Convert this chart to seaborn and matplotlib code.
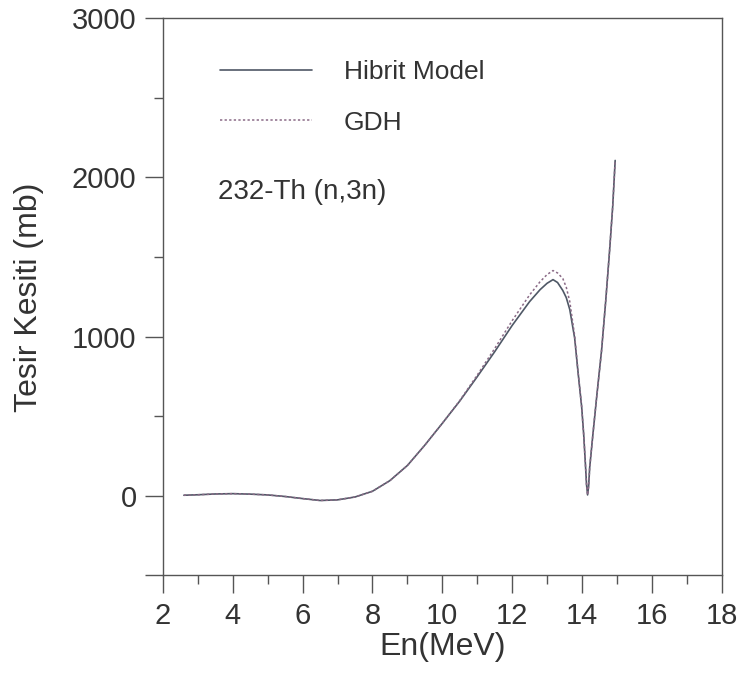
import numpy as np
import pandas as pd
import matplotlib
matplotlib.use("Agg")
import matplotlib.pyplot as plt
import seaborn as sns
from matplotlib.ticker import MultipleLocator

# energies (MeV) and cross sections (mb)
energy = [2.6, 3.0, 3.5, 4.0, 4.5, 5.0, 5.5, 6.0, 6.5, 7.0, 7.5, 8.0, 8.5, 9.0,
          9.5, 10.0, 10.5, 11.0, 11.5, 12.0, 12.5, 12.8, 13.0, 13.17, 13.3,
          13.45, 13.55, 13.65, 13.79, 13.88, 13.99, 14.05, 14.1, 14.13, 14.16,
          14.19, 14.22, 14.31, 14.42, 14.56, 14.68, 14.79, 14.88, 14.95]
hibrit = [3, 6, 11, 13, 10, 5, -5, -18, -30, -26, -8, 28, 95, 190,
          318, 455, 595, 748, 905, 1070, 1220, 1295, 1335, 1358, 1340,
          1290, 1245, 1170, 990, 790, 560, 380, 190, 70, 5,
          60, 176, 380, 620, 912, 1226, 1540, 1820, 2107]
gdh = [3, 6, 11, 13, 10, 5, -5, -18, -30, -26, -8, 28, 95, 190,
       318, 455, 598, 758, 925, 1100, 1262, 1345, 1390, 1415, 1400,
       1365, 1310, 1220, 1005, 795, 560, 380, 190, 70, 5,
       60, 176, 380, 620, 912, 1226, 1540, 1820, 2107]

df = pd.DataFrame({"En": energy, "Hibrit Model": hibrit, "GDH": gdh})

sns.set_style("ticks")
plt.rcParams["font.family"] = ["Liberation Sans", "DejaVu Sans"]

fig = plt.figure(figsize=(7.44, 6.80), dpi=100)
ax = fig.add_axes([0.219, 0.154, 0.751, 0.819])

sns.lineplot(data=df, x="En", y="Hibrit Model", ax=ax, color="#4f5866",
             linewidth=1.2, label="Hibrit Model")
sns.lineplot(data=df, x="En", y="GDH", ax=ax, color="#8a6a86",
             linewidth=1.1, linestyle=(0, (1.5, 1.5)), label="GDH")

ax.set_xlim(2, 18)
ax.set_ylim(-500, 3000)
ax.set_xticks(range(2, 19, 2))
ax.xaxis.set_minor_locator(MultipleLocator(1))
ax.set_yticks([-500, 0, 1000, 2000, 3000])
ax.set_yticklabels(["", "0", "1000", "2000", "3000"])
ax.set_yticks([500, 1500, 2500], minor=True)

ax.tick_params(which="major", length=13, width=1, color="#555555",
               labelsize=21, labelcolor="#333333", pad=6)
ax.tick_params(which="minor", length=6.5, width=1, color="#555555")

for s in ax.spines.values():
    s.set_visible(True)
    s.set_color("#555555")
    s.set_linewidth(1)

ax.set_xlabel("En(MeV)", fontsize=23, color="#333333", labelpad=2)
ax.set_ylabel("Tesir Kesiti (mb)", fontsize=23, color="#333333", labelpad=20)

leg = ax.legend(loc="upper left", bbox_to_anchor=(0.102, 0.925), frameon=False,
                fontsize=19, handlelength=3.5, handletextpad=1.2,
                labelspacing=1.0, borderpad=0, borderaxespad=0)
for t in leg.get_texts():
    t.set_color("#333333")

ax.text(0.098, 0.688, "232-Th (n,3n)", transform=ax.transAxes, fontsize=20,
        color="#333333", va="center", ha="left")

fig.savefig("out.png", dpi=100)
